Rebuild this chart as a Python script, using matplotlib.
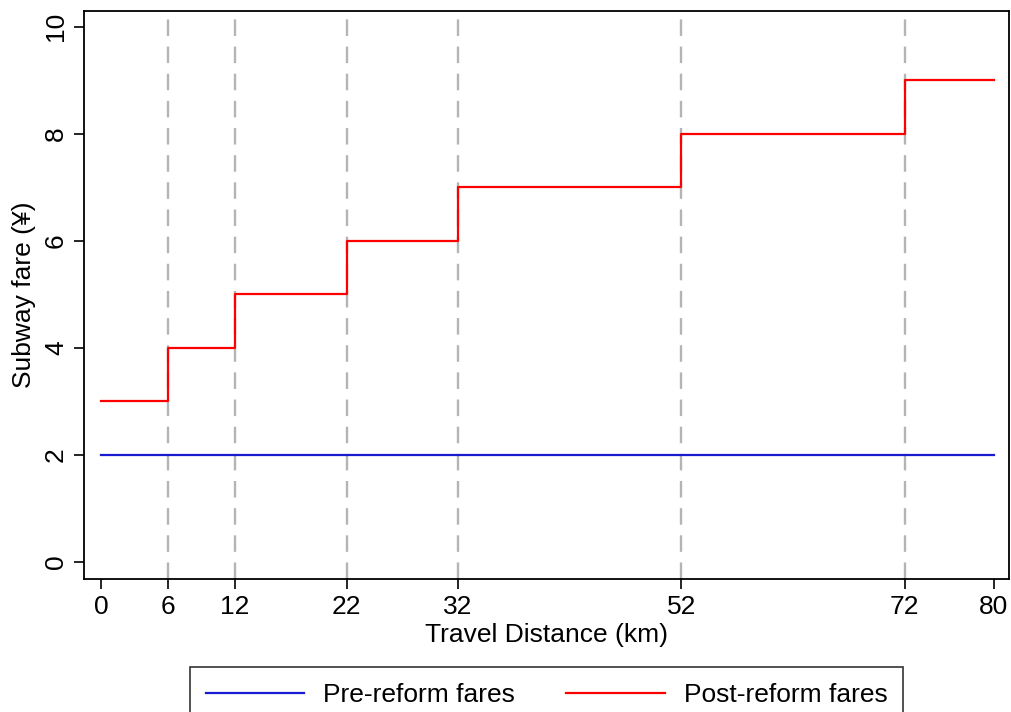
import matplotlib
matplotlib.use("Agg")
import matplotlib.pyplot as plt

plt.rcParams['font.family'] = ['Liberation Sans', 'DejaVu Sans']

# fare schedule
breaks = [0, 6, 12, 22, 32, 52, 72, 80]
post_fares = [3, 4, 5, 6, 7, 8, 9, 9]
pre_fares = [2, 2]
pre_x = [0, 80]
cutoffs = [6, 12, 22, 32, 52, 72]
yticks = [0, 2, 4, 6, 8, 10]

fs = 19

fig = plt.figure(figsize=(10.11, 7.12), dpi=100)
ax = fig.add_axes([84 / 1011, 1 - 579 / 712, (1009 - 84) / 1011, (579 - 11) / 712])

for c in cutoffs:
    ax.axvline(c, color='#b4b4b4', lw=1.7, ls=(0, (7, 4.5)), zorder=1)

ax.plot(pre_x, pre_fares, color='#1a1ad0', lw=1.6, label='Pre-reform fares', zorder=3)
ax.step(breaks, post_fares, where='post', color='#ff0000', lw=1.6,
        label='Post-reform fares', zorder=3)

ax.set_xlim(-1.52, 81.35)
ax.set_ylim(-0.32, 10.29)
ax.set_xticks(breaks)
ax.set_yticks(yticks)
ax.tick_params(labelsize=fs, length=7.5, width=1.2, color='black', pad=4)
for lab in ax.get_yticklabels():
    lab.set_rotation(90)
    lab.set_va('center')
for t in ax.xaxis.get_major_ticks():
    if t.get_loc() in cutoffs:
        t.tick1line.set_color('#b4b4b4')

for s in ax.spines.values():
    s.set_linewidth(1.3)

ax.set_xlabel('Travel Distance (km)', fontsize=fs, labelpad=3)
ax.set_ylabel('Subway fare (¥)', fontsize=fs, labelpad=6)

leg = fig.legend(loc='upper center', bbox_to_anchor=(546.5 / 1011, 1 - 667 / 712),
                 ncol=2, fontsize=fs, frameon=True, fancybox=False,
                 edgecolor='black', handlelength=3.75, columnspacing=1.95,
                 borderpad=0.6, handletextpad=0.7, borderaxespad=0)
leg.get_frame().set_linewidth(1.2)

fig.savefig('out.png', dpi=100)
